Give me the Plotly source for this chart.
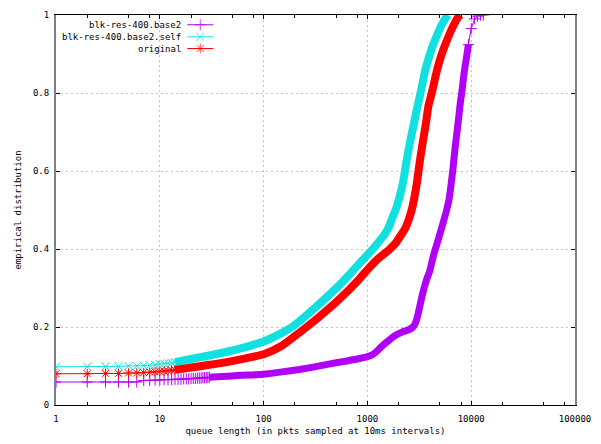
import plotly.graph_objects as go

# ---------------- data ----------------
names = ["blk-res-400.base2", "blk-res-400.base2.self", "original"]
colors = ["#b000f8", "#10e0e0", "#ff0000"]

# blk-res-400.base2 (purple)
q_base2_sparse = list(range(1, 31))
F_base2_sparse = [0.059, 0.059, 0.059, 0.059, 0.059, 0.059, 0.063, 0.063, 0.064, 0.064,
                  0.065, 0.065, 0.065, 0.066, 0.066, 0.066, 0.067, 0.067, 0.067, 0.068,
                  0.068, 0.068, 0.069, 0.069, 0.069, 0.070, 0.070, 0.070, 0.071, 0.071]
q_base2_dense = [30, 40, 60, 100, 150, 220, 300, 450, 600, 800, 1000, 1100, 1200, 1400,
                 1650, 1900, 2200, 2500, 2750, 2950, 3150, 3400, 3700, 4000, 4300, 4700,
                 5050, 5400, 5800, 6100, 6400, 6700, 7000, 7300, 7600, 7800, 8100, 8600,
                 9000, 9400]
F_base2_dense = [0.071, 0.073, 0.076, 0.079, 0.085, 0.091, 0.097, 0.106, 0.112, 0.118,
                 0.124, 0.128, 0.135, 0.152, 0.168, 0.180, 0.188, 0.193, 0.200, 0.215,
                 0.245, 0.285, 0.320, 0.345, 0.380, 0.415, 0.443, 0.470, 0.500, 0.525,
                 0.565, 0.610, 0.660, 0.700, 0.740, 0.768, 0.800, 0.857, 0.890, 0.924]
q_base2_tail = [9400, 10000, 10800, 11500, 12300, 13100]
F_base2_tail = [0.924, 0.965, 0.990, 0.997, 1.0, 1.0]

# blk-res-400.base2.self (cyan)
q_self_sparse = list(range(1, 15))
F_self_sparse = [0.098, 0.098, 0.099, 0.099, 0.100, 0.100, 0.101, 0.102, 0.103, 0.105,
                 0.106, 0.107, 0.108, 0.110]
q_self_dense = [14, 20, 30, 40, 60, 100, 150, 200, 300, 400, 550, 700, 850, 1000, 1150,
                1300, 1450, 1600, 1750, 1900, 2050, 2200, 2400, 2600, 2800, 3050, 3250,
                3600, 3950, 4300, 4750, 5200, 5600, 6000]
F_self_dense = [0.110, 0.118, 0.127, 0.134, 0.145, 0.163, 0.185, 0.205, 0.245, 0.275,
                0.310, 0.340, 0.365, 0.385, 0.403, 0.420, 0.436, 0.455, 0.482, 0.505,
                0.535, 0.570, 0.630, 0.680, 0.720, 0.768, 0.800, 0.857, 0.895, 0.924,
                0.952, 0.975, 0.990, 1.0]

# original (red)
q_orig_sparse = list(range(1, 15))
F_orig_sparse = [0.080, 0.080, 0.081, 0.081, 0.082, 0.082, 0.083, 0.084, 0.085, 0.086,
                 0.087, 0.088, 0.089, 0.090]
q_orig_dense = [14, 20, 30, 40, 60, 100, 150, 220, 340, 530, 830, 1000, 1290, 1600, 1870,
                2100, 2340, 2550, 2700, 2850, 3000, 3200, 3400, 3650, 3880, 4170, 4670,
                5100, 5620, 6200, 6800, 7300, 7800]
F_orig_dense = [0.090, 0.096, 0.103, 0.108, 0.117, 0.130, 0.152, 0.185, 0.225, 0.270,
                0.322, 0.347, 0.377, 0.397, 0.415, 0.435, 0.455, 0.482, 0.505, 0.535,
                0.570, 0.625, 0.670, 0.720, 0.768, 0.800, 0.857, 0.893, 0.924, 0.952,
                0.975, 0.990, 1.0]

x_tick_vals = [1, 10, 100, 1000, 10000, 100000]
x_tick_text = ["1", "10", "100", "1000", "10000", "100000"]
x_minor_vals = [m * d for d in [1, 10, 100, 1000, 10000] for m in (2, 5, 8)]
y_tick_vals = [0, 0.2, 0.4, 0.6, 0.8, 1]
y_tick_text = ["0", "0.2", "0.4", "0.6", "0.8", "1"]

symbols = ["cross-thin", "x-thin", "asterisk"]
FONT = "DejaVu Sans Mono"

series = [
    (q_base2_sparse, F_base2_sparse, q_base2_dense, F_base2_dense, 7),
    (q_self_sparse, F_self_sparse, q_self_dense, F_self_dense, 8),
    (q_orig_sparse, F_orig_sparse, q_orig_dense, F_orig_dense, 8),
]

fig = go.Figure()
for i, (qs, fs, qd, fd, bw) in enumerate(series):
    c = colors[i]
    fig.add_trace(go.Scatter(x=qd, y=fd, mode="lines",
                             line=dict(color=c, width=bw, shape="spline", smoothing=0.6),
                             showlegend=False, hoverinfo="skip"))
    fig.add_trace(go.Scatter(x=qs, y=fs, mode="lines+markers",
                             line=dict(color=c, width=1),
                             marker=dict(symbol=symbols[i], size=8, color=c,
                                         line=dict(color=c, width=1)),
                             showlegend=False))
    if i == 0:
        fig.add_trace(go.Scatter(x=q_base2_tail, y=F_base2_tail, mode="lines+markers",
                                 line=dict(color=c, width=1),
                                 marker=dict(symbol=symbols[i], size=8, color=c,
                                             line=dict(color=c, width=1)),
                                 showlegend=False))

# manual gnuplot-style key (text right, sample to the right)
key_y = [0.975, 0.944, 0.914]
for i in range(3):
    fig.add_trace(go.Scatter(x=[0.253, 0.278, 0.303], y=[key_y[i]] * 3,
                             xaxis="x2", yaxis="y2", mode="lines+markers",
                             line=dict(color=colors[i], width=1),
                             marker=dict(symbol=symbols[i], size=[0, 8, 0], color=colors[i],
                                         line=dict(color=colors[i], width=1)),
                             showlegend=False, hoverinfo="skip"))
    fig.add_annotation(x=0.244, y=key_y[i], xref="paper", yref="paper",
                       text=names[i], showarrow=False, xanchor="right", yanchor="middle",
                       font=dict(family=FONT, size=9, color="black"))

fig.add_shape(type="rect", xref="paper", yref="paper", x0=0.004, x1=0.31, y0=0.9, y1=0.996,
              fillcolor="white", line=dict(width=0), layer="below")

fig.update_layout(
    width=601, height=444,
    margin=dict(l=56, r=24, t=10, b=38),
    paper_bgcolor="white", plot_bgcolor="white",
    font=dict(family=FONT, size=9, color="black"),
    showlegend=False,
    xaxis=dict(type="log", range=[0, 5], tickvals=x_tick_vals, ticktext=x_tick_text,
               ticks="inside", ticklen=4, tickcolor="black", tickwidth=1,
               ticklabelstandoff=5,
               showline=True, linecolor="black", linewidth=1, mirror="ticks",
               showgrid=True, gridcolor="#c4c4c4", griddash="2px,3px", gridwidth=1,
               zeroline=False,
               minor=dict(tickvals=x_minor_vals, ticks="inside", ticklen=3,
                          tickcolor="black", showgrid=False),
               title=dict(text="queue length (in pkts sampled at 10ms intervals)",
                          standoff=4, font=dict(family=FONT, size=9)),
               tickfont=dict(family=FONT, size=9)),
    yaxis=dict(range=[0, 1], tickvals=y_tick_vals, ticktext=y_tick_text,
               ticks="inside", ticklen=4, tickcolor="black",
               ticklabelstandoff=3,
               showline=True, linecolor="#808080", linewidth=2, mirror="ticks",
               showgrid=True, gridcolor="#c4c4c4", griddash="2px,3px", gridwidth=1,
               zeroline=False,
               title=dict(text="empirical distribution", standoff=10,
                          font=dict(family=FONT, size=9)),
               tickfont=dict(family=FONT, size=9)),
    xaxis2=dict(overlaying="x", anchor="y2", range=[0, 1], visible=False),
    yaxis2=dict(overlaying="y", anchor="x2", range=[0, 1], visible=False),
)

fig.write_html("out.html")
